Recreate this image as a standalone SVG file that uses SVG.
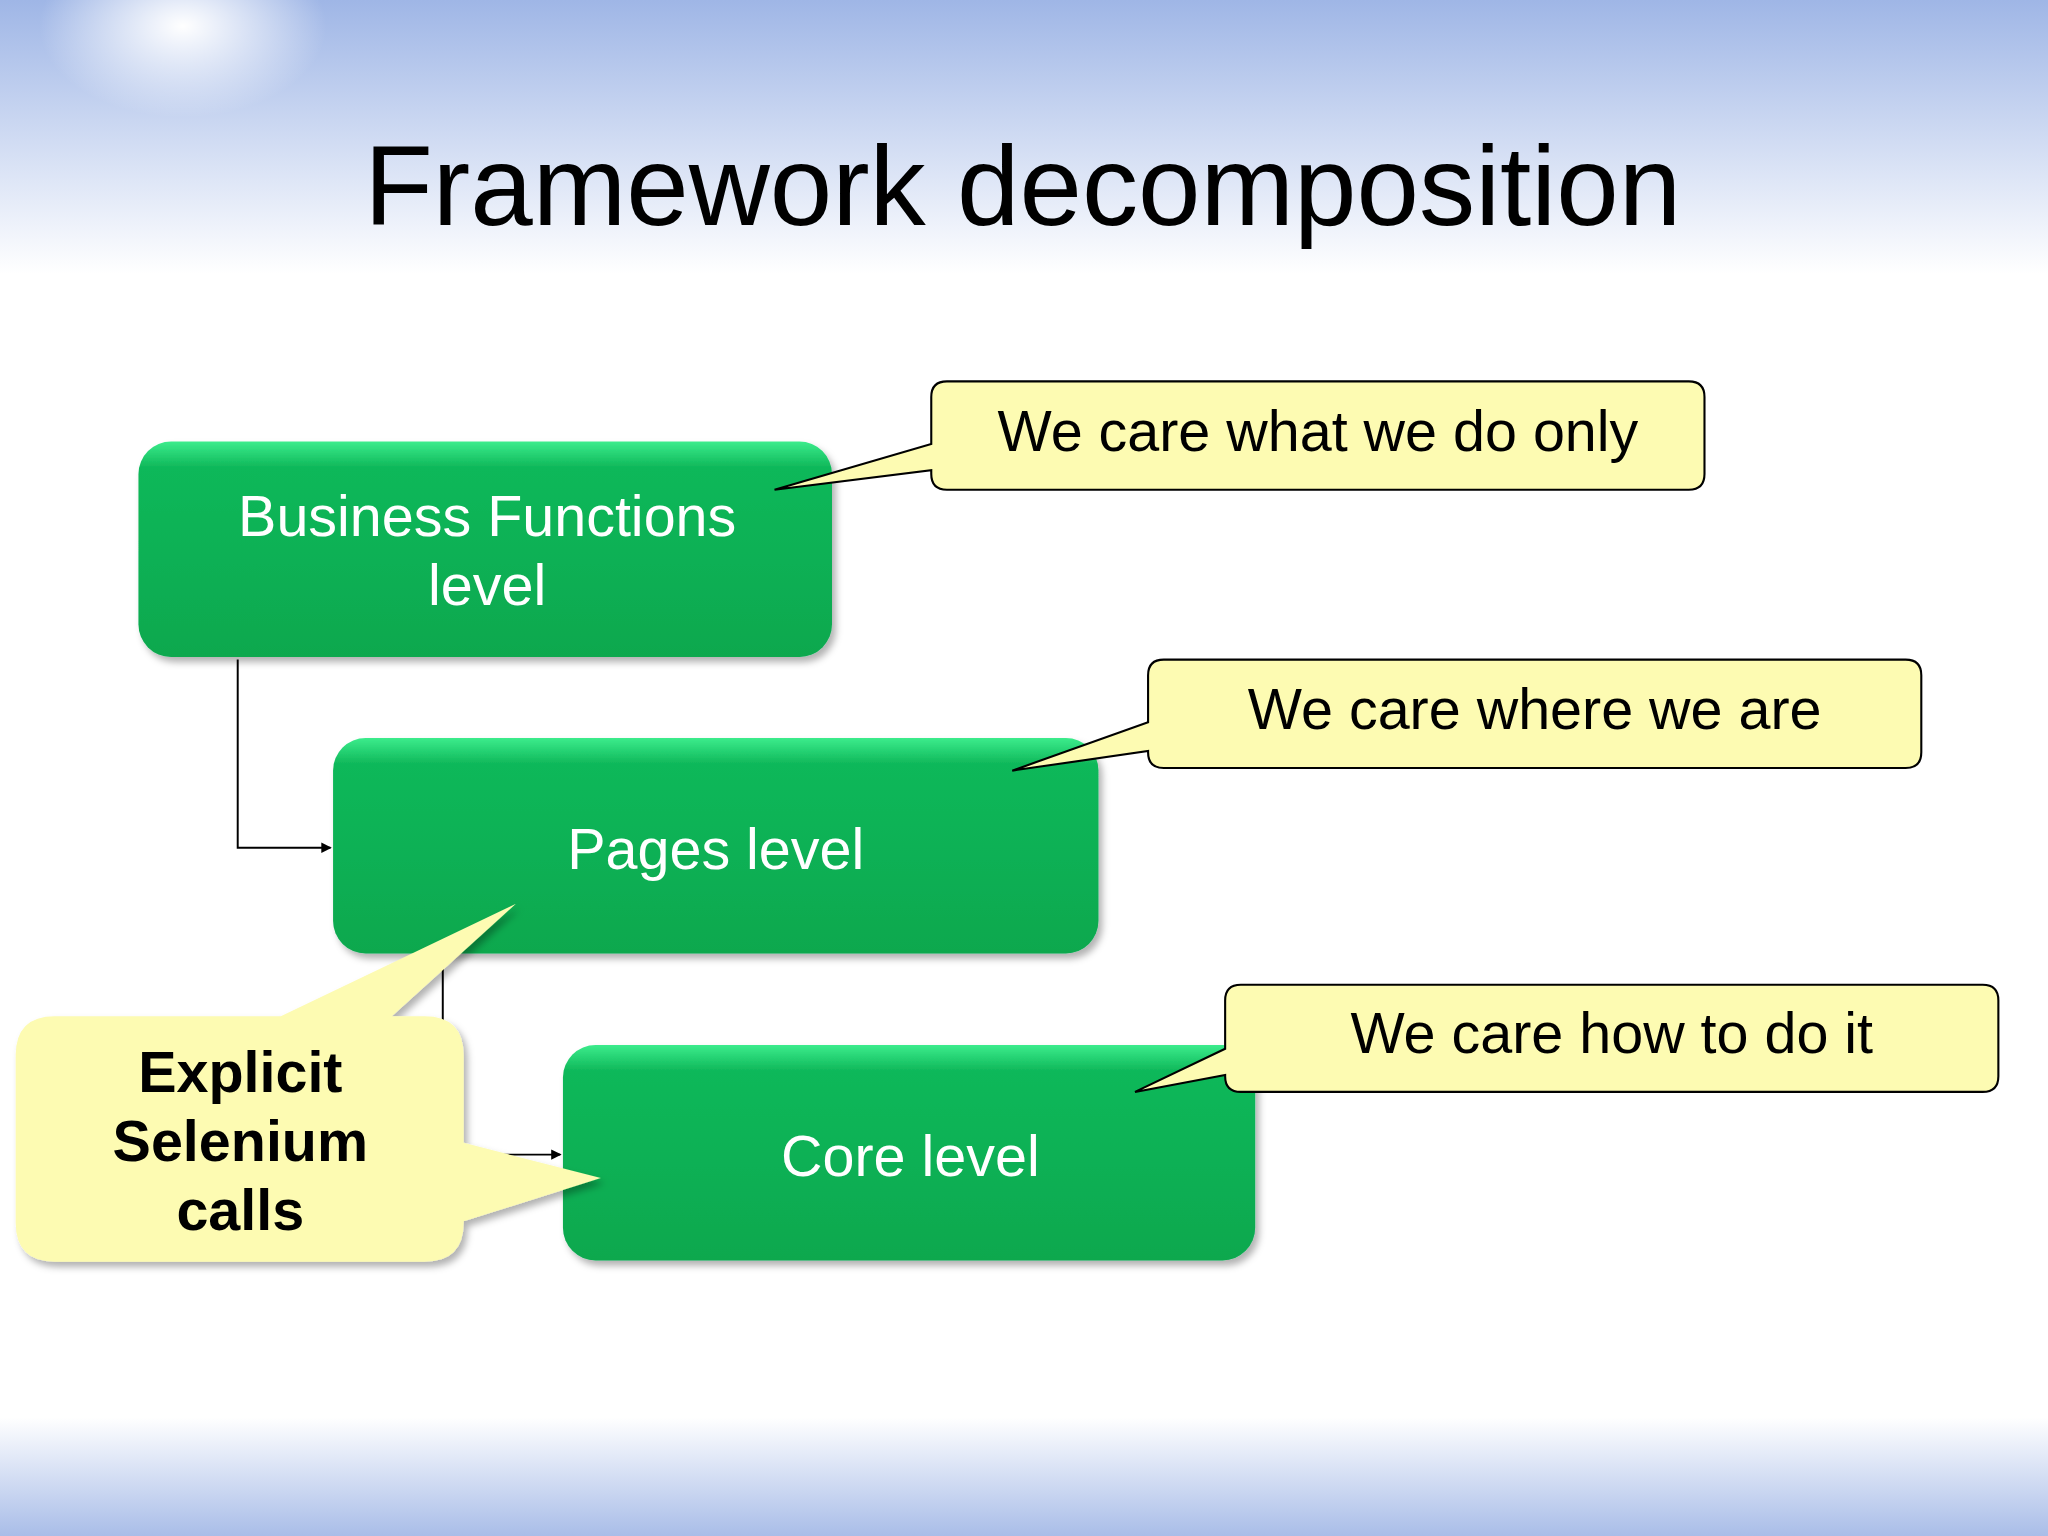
<svg xmlns="http://www.w3.org/2000/svg" width="2048" height="1536" viewBox="0 0 2048 1536">
<defs>
<linearGradient id="top" x1="0" y1="0" x2="0" y2="1"><stop offset="0" stop-color="#9fb6e6"/><stop offset="1" stop-color="#ffffff"/></linearGradient>
<linearGradient id="bot" x1="0" y1="0" x2="0" y2="1"><stop offset="0" stop-color="#ffffff"/><stop offset="1" stop-color="#a9bde8"/></linearGradient>
<radialGradient id="sun" cx="0.5" cy="0.5" r="0.5"><stop offset="0" stop-color="#ffffff"/><stop offset="1" stop-color="#ffffff" stop-opacity="0"/></radialGradient>
<linearGradient id="green" x1="0" y1="0" x2="0" y2="1"><stop offset="0" stop-color="#3cec8c"/><stop offset="0.12" stop-color="#0fb85a"/><stop offset="1" stop-color="#07a84e"/></linearGradient>
<marker id="arr" markerWidth="8" markerHeight="8" refX="7" refY="4" orient="auto" markerUnits="userSpaceOnUse"><path d="M0,0 L8,4 L0,8 z" fill="#000"/></marker>
<filter id="sh" x="-10%" y="-10%" width="130%" height="130%"><feDropShadow dx="3" dy="4" stdDeviation="3" flood-color="#000" flood-opacity="0.3"/></filter>
</defs>
<style>
.box{fill:url(#green);filter:url(#sh)}
.bt{font-family:"Liberation Sans",Arial,sans-serif;font-size:44px;fill:#fff;text-anchor:middle}
.co{fill:#fdfbb2;stroke:#000;stroke-width:1.6}
.ct{font-family:"Liberation Sans",Arial,sans-serif;font-size:44px;fill:#000;text-anchor:middle}
.ln{fill:none;stroke:#000;stroke-width:1.5}
</style>
<g transform="scale(1.30612)">
<rect width="1568" height="1176" fill="#fff"/>
<rect width="1568" height="210" fill="url(#top)"/>
<rect y="1085" width="1568" height="91" fill="url(#bot)"/>
<ellipse cx="140" cy="20" rx="110" ry="70" fill="url(#sun)"/>
<text x="783" y="172" font-family="Liberation Sans,Arial,sans-serif" font-size="86" text-anchor="middle" fill="#000">Framework decomposition</text>
<g id="connectors">
<path class="ln" d="M182,505 V649 H253" marker-end="url(#arr)"/>
<path class="ln" d="M339,732 V884 H429" marker-end="url(#arr)"/>
</g>
<g id="n1"><rect class="box" x="106" y="338" width="531" height="165" rx="25"/><text class="bt" x="373" y="410">Business Functions</text><text class="bt" x="373" y="463">level</text></g>
<g id="n2"><rect class="box" x="255" y="565" width="586" height="165" rx="25"/><text class="bt" x="548" y="665">Pages level</text></g>
<g id="n3"><rect class="box" x="431" y="800" width="530" height="165" rx="25"/><text class="bt" x="697" y="900">Core level</text></g>
<g id="c1"><path class="co" d="M725,292 H1293 Q1305,292 1305,304 V363 Q1305,375 1293,375 H725 Q713,375 713,363 V360 L593,375 L713,340 V304 Q713,292 725,292 Z"/><text class="ct" x="1009" y="345">We care what we do only</text></g>
<g id="c2"><path class="co" d="M891,505 H1459 Q1471,505 1471,517 V576 Q1471,588 1459,588 H891 Q879,588 879,576 V575 L775,590 L879,553 V517 Q879,505 891,505 Z"/><text class="ct" x="1175" y="558">We care where we are</text></g>
<g id="c3"><path class="co" d="M950,754 H1518 Q1530,754 1530,766 V824 Q1530,836 1518,836 H950 Q938,836 938,824 V823 L869,836 L938,803 V766 Q938,754 950,754 Z"/><text class="ct" x="1234" y="806">We care how to do it</text></g>
<g id="c4"><path d="M42,778 H215 L395,692 L300,778 H325 Q355,778 355,808 V875 L460,902 L355,935 V936 Q355,966 325,966 H42 Q12,966 12,936 V808 Q12,778 42,778 Z" fill="#fdfbb2" filter="url(#sh)"/>
<text class="ct" x="184" y="836" font-weight="bold">Explicit</text><text class="ct" x="184" y="889" font-weight="bold">Selenium</text><text class="ct" x="184" y="942" font-weight="bold">calls</text></g>
</g>
</svg>
